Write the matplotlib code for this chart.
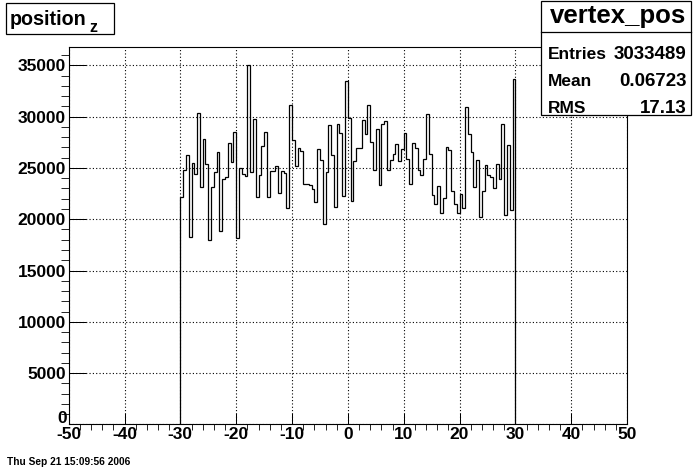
import numpy as np
import matplotlib
matplotlib.use("Agg")
import matplotlib.pyplot as plt
from matplotlib.ticker import MultipleLocator, FuncFormatter
from matplotlib.patches import Rectangle
from matplotlib.lines import Line2D

plt.rcParams["font.family"] = ["Liberation Sans", "DejaVu Sans"]
plt.rcParams["font.weight"] = "bold"
plt.rcParams["axes.unicode_minus"] = False

# histogram content, 0.5 wide bins from -30 to 30
x_low, x_high, n_bins = -30.0, 30.0, 120
counts = [
    22180, 24810, 26260, 18260, 25460, 24400, 30350, 23140, 27800, 25380,
    17990, 23140, 24580, 26530, 18850, 23900, 24100, 27410, 25570, 28520,
    18150, 24970, 24450, 24230, 35000, 24580, 29750, 22160, 24320, 27130,
    28510, 22160, 24660, 24660, 25170, 22540, 24730, 24470, 21070, 31150,
    27700, 25170, 26920, 26630, 23410, 23410, 23300, 22930, 21670, 26830,
    25770, 19510, 24570, 29170, 26270, 21190, 29250, 28370, 22260, 33470,
    29860, 21780, 25670, 26990, 26950, 29650, 28270, 31130, 27520, 24800,
    28780, 23320, 29270, 29540, 24800, 25770, 26340, 27310, 25670, 26830,
    28400, 25850, 23430, 27410, 26920, 24800, 24310, 25850, 30240, 26350,
    22360, 21480, 23200, 20590, 22060, 27000, 26760, 22730, 21480, 20600,
    22440, 21070, 30900, 28290, 26530, 23120, 25770, 20200, 22710, 25270,
    24310, 24100, 23020, 25360, 23920, 29260, 20390, 27220, 20860, 33650,
]

title = "position"
title_sub = "z"
stats_name = "vertex_pos"
stats_labels = ["Entries", "Mean", "RMS"]
stats_values = ["3033489", "0.06723", "17.13"]
date_text = "Thu Sep 21 15:09:56 2006"

W, H = 696, 472


def fx(px):
    return px / W


def fy(py):
    return 1 - py / H


fig = plt.figure(figsize=(W / 100, H / 100), dpi=100)
fig.patch.set_facecolor("white")
ax = fig.add_axes([fx(68.7), fy(424.4), fx(627 - 68.7), (424.4 - 47.4) / H])

edges = np.linspace(x_low, x_high, n_bins + 1)
ax.stairs(counts, edges, baseline=0, color="black", linewidth=0.9, zorder=3)

ax.set_xlim(-50, 50)
ax.set_ylim(0, 36750)
ax.xaxis.set_major_locator(MultipleLocator(10))
ax.xaxis.set_minor_locator(MultipleLocator(2))
ax.yaxis.set_major_locator(MultipleLocator(5000))
ax.yaxis.set_minor_locator(MultipleLocator(1000))
# the zero label sits a bit higher, drawn by hand below
ax.yaxis.set_major_formatter(FuncFormatter(lambda v, p: "" if v == 0 else "%d" % v))

ax.grid(True, which="major", color="black", linestyle=(0, (1, 2)), linewidth=0.8)
ax.set_axisbelow(True)
for sp in ax.spines.values():
    sp.set_linewidth(0.8)

ax.tick_params(direction="in", top=False, right=False, width=0.72,
               labelsize=12.5, pad=2)
ax.tick_params(axis="x", which="major", length=7.9)
ax.tick_params(axis="x", which="minor", length=4)
ax.tick_params(axis="y", which="major", length=12.2)
ax.tick_params(axis="y", which="minor", length=6.1)
for lab in ax.get_xticklabels() + ax.get_yticklabels():
    lab.set_fontweight("bold")
fig.text(fx(66.5), fy(423), "0", fontsize=12.5, fontweight="bold", ha="right", va="baseline")

# title box
fig.add_artist(Rectangle((fx(6), fy(34.3)), fx(108.3), 31 / H, transform=fig.transFigure,
                         facecolor="white", edgecolor="black", linewidth=0.9, zorder=5))
fig.text(fx(9.5), fy(25), title, fontsize=14.2, fontweight="bold", va="baseline", zorder=6)
fig.text(fx(89.5), fy(31.7), title_sub, fontsize=11.5, fontweight="bold", va="baseline", zorder=6)

# stats box
fig.add_artist(Rectangle((fx(541), fy(115)), fx(150), 114 / H, transform=fig.transFigure,
                         facecolor="white", edgecolor="black", linewidth=0.9, zorder=5))
fig.add_artist(Line2D([fx(541), fx(691)], [fy(32), fy(32)], transform=fig.transFigure,
                      color="black", linewidth=0.9, zorder=6))
fig.text(fx(618), fy(22.7), stats_name, fontsize=18.5, fontweight="bold",
         ha="center", va="baseline", zorder=6)
for i, (lab, val) in enumerate(zip(stats_labels, stats_values)):
    base = 59 + 27.2 * i
    fig.text(fx(548.3), fy(base), lab, fontsize=12.5, fontweight="bold", va="baseline", zorder=6)
    fig.text(fx(686.7), fy(base), val, fontsize=13.5, fontweight="bold",
             ha="right", va="baseline", zorder=6)

fig.text(fx(7.3), fy(465), date_text, fontsize=7.3, fontweight="bold", va="baseline")

fig.savefig("out.png", dpi=100)
